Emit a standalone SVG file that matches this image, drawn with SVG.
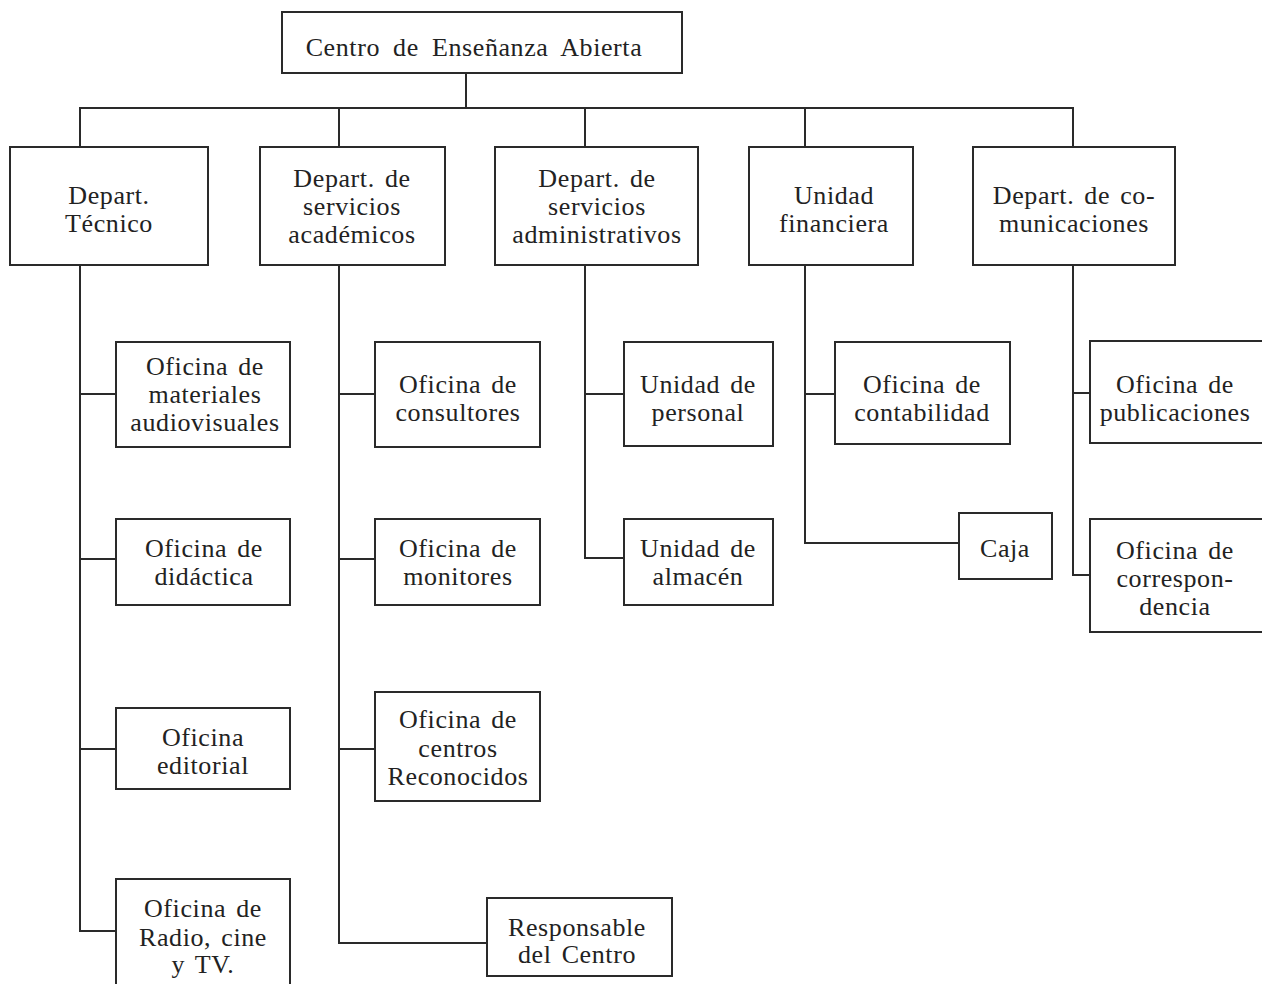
<svg xmlns="http://www.w3.org/2000/svg" width="1262" height="984" viewBox="0 0 1262 984">
<style>
  .bx { fill: #fff; stroke: #2a2a2a; stroke-width: 2; }
  .ln { fill: none; stroke: #2a2a2a; stroke-width: 2; }
  text { font-family: "Liberation Serif", "DejaVu Serif", serif; font-size: 26px; fill: #222; text-anchor: middle; letter-spacing: 0.6px; word-spacing: 3px; }
  .title { word-spacing: 6px; }
</style>
<rect width="1262" height="984" fill="#fff"/>
<g id="connectors" class="ln">
  <path d="M466 73 V108"/>
  <path d="M80 147 V108 H1073 V147"/>
  <path d="M339 108 V147"/>
  <path d="M585 108 V147"/>
  <path d="M805 108 V147"/>
  <path d="M80 265 V931 H116"/>
  <path d="M80 394 H116"/>
  <path d="M80 559 H116"/>
  <path d="M80 749 H116"/>
  <path d="M339 265 V943 H487"/>
  <path d="M339 394 H375"/>
  <path d="M339 559 H375"/>
  <path d="M339 749 H375"/>
  <path d="M585 265 V558 H624"/>
  <path d="M585 394 H624"/>
  <path d="M805 265 V543 H959"/>
  <path d="M805 394 H835"/>
  <path d="M1073 265 V575 H1090"/>
  <path d="M1073 393 H1090"/>
</g>
<g id="n-centro"><rect class="bx" x="282" y="12" width="400" height="61"/><text class="title" x="474" y="56">Centro de Enseñanza Abierta</text></g>
<g id="n-tecnico"><rect class="bx" x="10" y="147" width="198" height="118"/><text x="109" y="204">Depart.</text><text x="109" y="232">Técnico</text></g>
<g id="n-academicos"><rect class="bx" x="260" y="147" width="185" height="118"/><text x="352" y="187">Depart. de</text><text x="352" y="215">servicios</text><text x="352" y="243">académicos</text></g>
<g id="n-administrativos"><rect class="bx" x="495" y="147" width="203" height="118"/><text x="597" y="187">Depart. de</text><text x="597" y="215">servicios</text><text x="597" y="243">administrativos</text></g>
<g id="n-financiera"><rect class="bx" x="749" y="147" width="164" height="118"/><text x="834" y="204">Unidad</text><text x="834" y="232">financiera</text></g>
<g id="n-comunicaciones"><rect class="bx" x="973" y="147" width="202" height="118"/><text x="1074" y="204">Depart. de co-</text><text x="1074" y="232">municaciones</text></g>
<g id="n-audiovisuales"><rect class="bx" x="116" y="342" width="174" height="105"/><text x="205" y="375">Oficina de</text><text x="205" y="403">materiales</text><text x="205" y="431">audiovisuales</text></g>
<g id="n-didactica"><rect class="bx" x="116" y="519" width="174" height="86"/><text x="204" y="557">Oficina de</text><text x="204" y="585">didáctica</text></g>
<g id="n-editorial"><rect class="bx" x="116" y="708" width="174" height="81"/><text x="203" y="746">Oficina</text><text x="203" y="774">editorial</text></g>
<g id="n-radio"><rect class="bx" x="116" y="879" width="174" height="120"/><text x="203" y="917">Oficina de</text><text x="203" y="946">Radio, cine</text><text x="203" y="973">y TV.</text></g>
<g id="n-consultores"><rect class="bx" x="375" y="342" width="165" height="105"/><text x="458" y="393">Oficina de</text><text x="458" y="421">consultores</text></g>
<g id="n-monitores"><rect class="bx" x="375" y="519" width="165" height="86"/><text x="458" y="557">Oficina de</text><text x="458" y="585">monitores</text></g>
<g id="n-centros"><rect class="bx" x="375" y="692" width="165" height="109"/><text x="458" y="728">Oficina de</text><text x="458" y="757">centros</text><text x="458" y="785">Reconocidos</text></g>
<g id="n-responsable"><rect class="bx" x="487" y="898" width="185" height="78"/><text x="577" y="936">Responsable</text><text x="577" y="963">del Centro</text></g>
<g id="n-personal"><rect class="bx" x="624" y="342" width="149" height="104"/><text x="698" y="393">Unidad de</text><text x="698" y="421">personal</text></g>
<g id="n-almacen"><rect class="bx" x="624" y="519" width="149" height="86"/><text x="698" y="557">Unidad de</text><text x="698" y="585">almacén</text></g>
<g id="n-contabilidad"><rect class="bx" x="835" y="342" width="175" height="102"/><text x="922" y="393">Oficina de</text><text x="922" y="421">contabilidad</text></g>
<g id="n-caja"><rect class="bx" x="959" y="513" width="93" height="66"/><text x="1005" y="557">Caja</text></g>
<g id="n-publicaciones"><rect class="bx" x="1090" y="341" width="180" height="102"/><text x="1175" y="393">Oficina de</text><text x="1175" y="421">publicaciones</text></g>
<g id="n-correspondencia"><rect class="bx" x="1090" y="519" width="180" height="113"/><text x="1175" y="559">Oficina de</text><text x="1175" y="587">correspon-</text><text x="1175" y="615">dencia</text></g>
</svg>
